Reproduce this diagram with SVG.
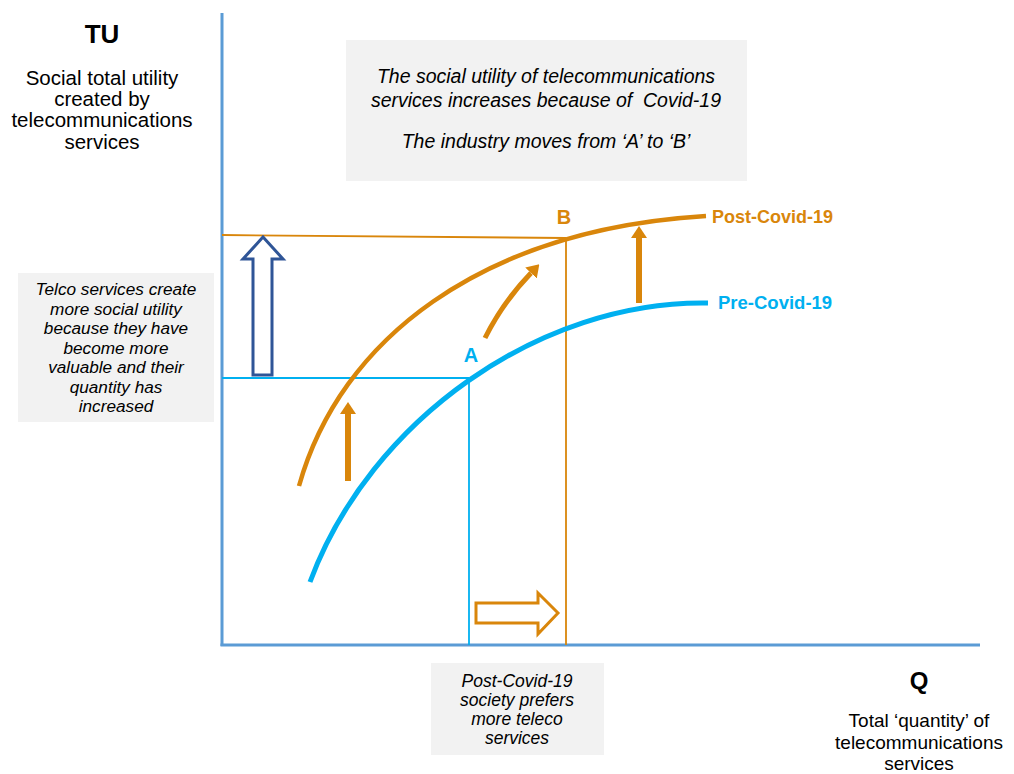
<svg xmlns="http://www.w3.org/2000/svg" width="1014" height="774" viewBox="0 0 1014 774">
<style>
text{font-family:"Liberation Sans",Arial,sans-serif;fill:#000;text-anchor:middle}
.it{font-style:italic}
.box{fill:#F2F2F2}
.org{stroke:#D9860B;fill:none}
.blu{stroke:#00B0F0;fill:none}
.lab{font-weight:bold}
</style>
<defs>
<marker id="ah" markerUnits="userSpaceOnUse" markerWidth="12" markerHeight="16" refX="0" refY="8" orient="auto" viewBox="0 0 12 16">
<path d="M0,0 L12,8 L0,16 z" fill="#D9860B"/>
</marker>
</defs>
<rect width="1014" height="774" fill="#fff"/>

<g id="axes">
<line x1="222" y1="13" x2="222" y2="646" stroke="#5B9BD5" stroke-width="3"/>
<line x1="220.5" y1="645" x2="980" y2="645" stroke="#5B9BD5" stroke-width="3"/>
</g>

<g id="connectors">
<line x1="222" y1="235" x2="566" y2="238" class="org" stroke-width="1.8"/>
<line x1="566" y1="238" x2="566" y2="645" class="org" stroke-width="1.8"/>
<line x1="222" y1="378" x2="469" y2="378" class="blu" stroke-width="1.8"/>
<line x1="469" y1="378" x2="469" y2="645" class="blu" stroke-width="1.8"/>
</g>

<g id="pre-curve">
<path d="M310,582 C370,420 540,300 708,303" class="blu" stroke-width="5"/>
</g>
<g id="post-curve">
<path d="M299,486 C340,340 480,230 706,216" class="org" stroke-width="4.5"/>
</g>

<g id="arrows">
<line x1="348" y1="481" x2="348" y2="414" class="org" stroke-width="6" marker-end="url(#ah)"/>
<line x1="639" y1="303" x2="639" y2="238" class="org" stroke-width="6" marker-end="url(#ah)"/>
<path d="M485,338 Q503,302 531,273" class="org" stroke-width="5" marker-end="url(#ah)"/>
<polygon points="263,237 283,259 272,259 272,375 253,375 253,259 243,259" fill="#fff" stroke="#2F5597" stroke-width="3" stroke-linejoin="miter"/>
<polygon points="476,603 538,603 538,593 558,613 538,634 538,623 476,623" fill="#fff" stroke="#D9860B" stroke-width="3"/>
</g>

<g id="point-labels">
<text x="564" y="224" class="lab" font-size="20" style="fill:#D9860B">B</text>
<text x="471" y="362" class="lab" font-size="20" style="fill:#00B0F0">A</text>
<text x="712" y="223" class="lab" font-size="18" style="fill:#D9860B;text-anchor:start">Post-Covid-19</text>
<text x="718" y="309" class="lab" font-size="18.5" style="fill:#00B0F0;text-anchor:start">Pre-Covid-19</text>
</g>

<g id="y-axis-label">
<text x="102" y="43" font-size="26" font-weight="bold">TU</text>
<text x="102" y="85" font-size="20.5">Social total utility</text>
<text x="102" y="106" font-size="20.5">created by</text>
<text x="102" y="127" font-size="20.5">telecommunications</text>
<text x="102" y="149" font-size="20.5">services</text>
</g>

<g id="x-axis-label">
<text x="919" y="689" font-size="24" font-weight="bold">Q</text>
<text x="919" y="727" font-size="19">Total ‘quantity’ of</text>
<text x="919" y="748.5" font-size="19">telecommunications</text>
<text x="919" y="770" font-size="19">services</text>
</g>

<g id="top-note">
<rect x="346" y="40" width="401" height="141" class="box"/>
<text x="546" y="83" font-size="19.5" class="it">The social utility of telecommunications</text>
<text x="546" y="107" font-size="19.5" class="it" style="white-space:pre">services increases because of  Covid-19</text>
<text x="546" y="148" font-size="19.5" class="it">The industry moves from ‘A’ to ‘B’</text>
</g>

<g id="left-note">
<rect x="18" y="273" width="196" height="149" class="box"/>
<text x="116" y="295" font-size="17.2" class="it">Telco services create</text>
<text x="116" y="314.5" font-size="17.2" class="it">more social utility</text>
<text x="116" y="334" font-size="17.2" class="it">because they have</text>
<text x="116" y="353.5" font-size="17.2" class="it">become more</text>
<text x="116" y="373" font-size="17.2" class="it">valuable and their</text>
<text x="116" y="392.5" font-size="17.2" class="it">quantity has</text>
<text x="116" y="412" font-size="17.2" class="it">increased</text>
</g>

<g id="bottom-note">
<rect x="431" y="663" width="173" height="92" class="box"/>
<text x="517" y="687" font-size="17.5" class="it">Post-Covid-19</text>
<text x="517" y="706" font-size="17.5" class="it">society prefers</text>
<text x="517" y="725" font-size="17.5" class="it">more teleco</text>
<text x="517" y="744" font-size="17.5" class="it">services</text>
</g>
</svg>
